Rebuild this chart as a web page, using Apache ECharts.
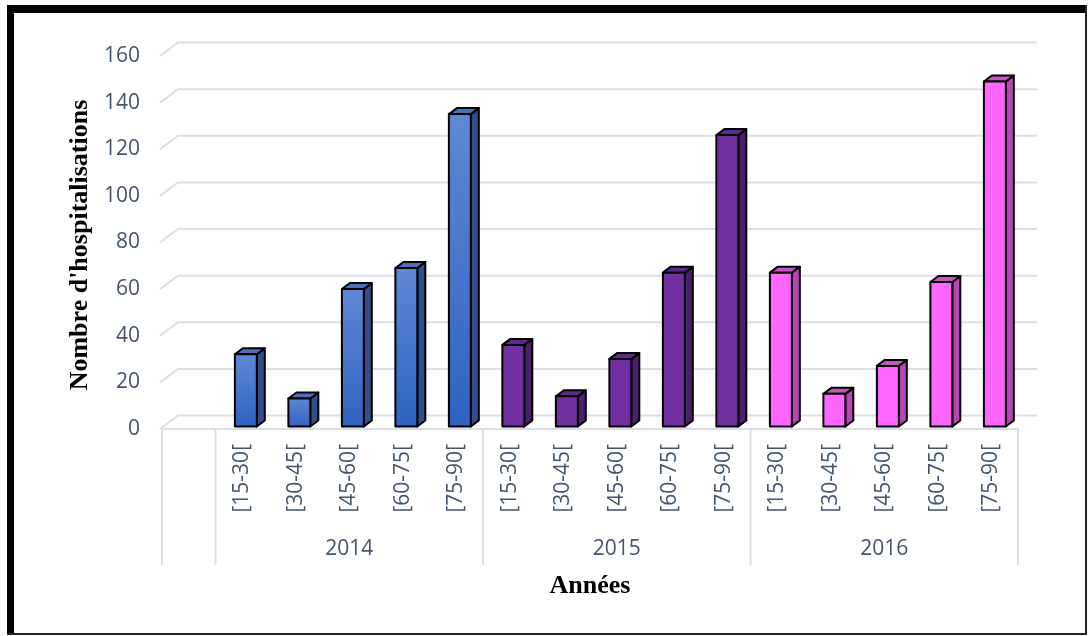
<!DOCTYPE html>
<html>
<head>
<meta charset="utf-8">
<script src="https://cdn.jsdelivr.net/npm/echarts@6/dist/echarts.min.js"></script>
<style>
  html, body { margin: 0; padding: 0; background: #fff; }
  #chart { width: 1088px; height: 636px; }
</style>
</head>
<body>
<div id="chart"></div>
<script>
// Hospitalisations per age band, 2014-2016
const yearGroups = ['2014', '2015', '2016'];
const ageBands = ['[15-30[', '[30-45[', '[45-60[', '[60-75[', '[75-90['];
const values2014 = [31, 12, 59, 68, 134];
const values2015 = [35, 13, 29, 66, 125];
const values2016 = [66, 14, 26, 62, 148];
const yTicks = [0, 20, 40, 60, 80, 100, 120, 140, 160];

const yearValues = [values2014, values2015, values2016];

// Category axis: one empty leading slot, then five bands per year
const categories = [''];
yearGroups.forEach(() => ageBands.forEach(b => categories.push(b)));

// Bars: [category index, value, year index]
const barData = [];
yearValues.forEach((vals, g) => {
  vals.forEach((v, i) => barData.push([1 + g * ageBands.length + i, v, g]));
});

// Group spans on the category axis: [first index, last index, year index]
const groupSpans = [[0, 0, -1]];
yearGroups.forEach((y, g) => {
  const s = 1 + g * ageBands.length;
  groupSpans.push([s, s + ageBands.length - 1, g]);
});

const palette = [
  {
    front: { type: 'linear', x: 0, y: 0, x2: 0, y2: 1,
      colorStops: [{ offset: 0, color: '#6088d4' }, { offset: 1, color: '#2e62c2' }] },
    side: '#2f4f8c', top: '#4a6fbf'
  },
  { front: '#7030a0', side: '#4b1f6e', top: '#5e2a8a' },
  { front: '#ff66ff', side: '#b447b4', top: '#c555c5' }
];

const GRID = '#dcdfe6';
const TXT = '#44546a';
const FONT = '"Open Sans", "Noto Sans", sans-serif';
const FS = 21;

// 3D depth of the back wall relative to the front plane
const WALL_DX = 18, WALL_DY = 13.5;

function renderWall(params, api) {
  const cs = params.coordSys;
  const y = api.coord([0, api.value(1)])[1];
  const x0 = cs.x - 2;
  return {
    type: 'polyline',
    shape: { points: [[x0, y], [x0 + WALL_DX, y - WALL_DY], [cs.x + cs.width + WALL_DX + 1, y - WALL_DY]] },
    style: { stroke: GRID, lineWidth: 2, fill: null }
  };
}

function renderGroups(params, api) {
  const s = api.value(0), e = api.value(1), g = api.value(2);
  const band = api.size([1, 0])[0];
  const y0 = api.coord([0, 0])[1];
  const left = api.coord([s, 0])[0] - band / 2;
  const right = api.coord([e, 0])[0] + band / 2;
  const children = [{
    type: 'line',
    shape: { x1: left, y1: y0, x2: left, y2: y0 + 136 },
    style: { stroke: GRID, lineWidth: 2 }
  }];
  if (e === categories.length - 1) {
    children.push({
      type: 'line',
      shape: { x1: right, y1: y0, x2: right, y2: y0 + 136 },
      style: { stroke: GRID, lineWidth: 2 }
    });
  }
  if (g >= 0) {
    children.push({
      type: 'text',
      x: (left + right) / 2, y: y0 + 120,
      style: { text: yearGroups[g], align: 'center', verticalAlign: 'middle',
               font: FS + 'px ' + FONT, fill: TXT }
    });
  }
  return { type: 'group', children };
}

function renderBar(params, api) {
  const idx = api.value(0), v = api.value(1), g = api.value(2);
  const base = api.coord([idx, 0]);
  const tip = api.coord([idx, v]);
  const band = api.size([1, 0])[0];
  const w = band * 0.41;
  const sx = 3.6, sy = 2.5;      // bar sits slightly behind the front plane
  const dx = 8, dy = 6;          // bar depth
  const xl = base[0] + sx - w / 2, xr = xl + w;
  const yb = base[1] - sy, yt = tip[1] - sy;
  const c = palette[g];
  const edge = { stroke: '#000', lineWidth: 2, lineJoin: 'round' };
  return {
    type: 'group',
    children: [
      { type: 'polygon',
        shape: { points: [[xr, yb], [xr + dx, yb - dy], [xr + dx, yt - dy], [xr, yt]] },
        style: Object.assign({ fill: c.side }, edge) },
      { type: 'polygon',
        shape: { points: [[xl, yt], [xl + dx, yt - dy], [xr + dx, yt - dy], [xr, yt]] },
        style: Object.assign({ fill: c.top }, edge) },
      { type: 'rect',
        shape: { x: xl, y: yt, width: w, height: yb - yt },
        style: Object.assign({ fill: c.front }, edge) }
    ]
  };
}

const chart = echarts.init(document.getElementById('chart'), null, { renderer: 'canvas' });

chart.setOption({
  backgroundColor: '#ffffff',
  animation: false,
  grid: { left: 162, right: 70, top: 56, bottom: 207 },
  xAxis: {
    type: 'category',
    data: categories,
    axisLine: { show: true, lineStyle: { color: GRID, width: 2 } },
    axisTick: { show: false },
    axisLabel: { rotate: 90, margin: 15, interval: 0, color: TXT, fontSize: FS, fontFamily: FONT }
  },
  yAxis: {
    type: 'value',
    min: 0, max: 160, interval: 20,
    axisLine: { show: false },
    axisTick: { show: false },
    splitLine: { show: false },
    axisLabel: { margin: 22, color: TXT, fontSize: FS, fontFamily: FONT }
  },
  series: [
    { type: 'custom', name: 'wall', renderItem: renderWall, clip: false, z: 1, silent: true,
      data: yTicks.map(v => [0, v]) },
    { type: 'custom', name: 'groups', renderItem: renderGroups, clip: false, z: 1, silent: true,
      data: groupSpans },
    { type: 'custom', name: 'hospitalisations', renderItem: renderBar, clip: false, z: 5,
      data: barData }
  ],
  graphic: [
    // page frame
    { type: 'rect', shape: { x: 7, y: 5, width: 1080, height: 8 }, style: { fill: '#000' } },
    { type: 'rect', shape: { x: 7, y: 5, width: 7, height: 630 }, style: { fill: '#000' } },
    { type: 'rect', shape: { x: 1085, y: 5, width: 2, height: 630 }, style: { fill: '#222' } },
    { type: 'rect', shape: { x: 7, y: 633, width: 1080, height: 2 }, style: { fill: '#222' } },
    // axis titles
    { type: 'text', x: 80, y: 245, rotation: Math.PI / 2,
      style: { text: "Nombre d'hospitalisations", align: 'center', verticalAlign: 'middle',
               font: 'bold 26px "Liberation Serif", "DejaVu Serif", serif', fill: '#000' } },
    { type: 'text', x: 590, y: 586,
      style: { text: 'Années', align: 'center', verticalAlign: 'middle',
               font: 'bold 26px "Liberation Serif", "DejaVu Serif", serif', fill: '#000' } }
  ]
});
</script>
</body>
</html>
